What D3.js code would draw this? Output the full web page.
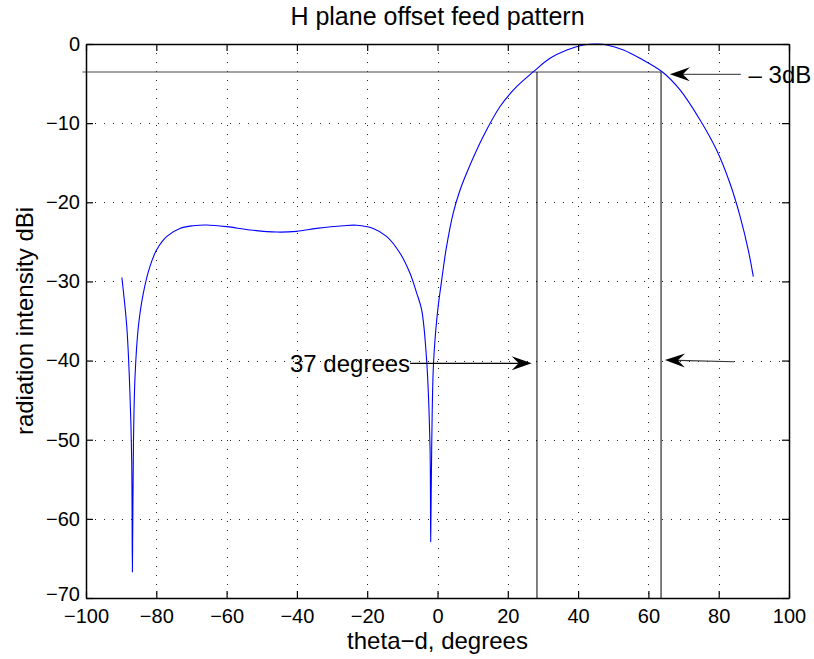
<!DOCTYPE html>
<html><head><meta charset="utf-8">
<script src="https://cdn.jsdelivr.net/npm/d3@7"></script>
<style>body{margin:0;background:#fff;} text{font-family:"Liberation Sans",Arial,Helvetica,sans-serif;}</style>
</head><body>
<script>
// ---- data ----
const theta = [-89.8,-88.4,-87.5,-87.0,-86.8,-86.5,-86.05,-85.1,-83.7,-81.8,-79.9,-77.0,-73.3,-69.5,-65.7,-60.0,-53.3,-45.7,-40.1,-34.4,-26.8,-23.0,-18.3,-14.5,-10.7,-7.8,-5.9,-4.5,-3.1,-2.13,-1.94,-1.65,-1.2,-0.5,0.23,1.2,2.5,4.5,6.3,8.3,13.0,17.8,22.5,27.3,32.0,36.8,41.5,45.5,48.5,52.9,57.6,64.0,69.0,74.7,79.4,83.2,86.1,88.4,89.85];
const intensity = [-29.5,-35.7,-44.1,-52.6,-66.7,-50.5,-42.0,-35.7,-31.5,-28.1,-26.0,-24.3,-23.3,-22.96,-22.87,-23.08,-23.5,-23.76,-23.67,-23.3,-22.96,-22.9,-23.3,-24.3,-26.4,-29.0,-31.5,-33.6,-39.9,-50.9,-62.9,-50.9,-41.0,-36.2,-33.0,-29.8,-25.8,-21.3,-18.6,-16.3,-11.7,-7.9,-5.4,-3.5,-1.81,-0.76,-0.13,0,-0.15,-0.76,-1.81,-3.54,-5.8,-9.6,-13.4,-17.6,-21.8,-26.0,-29.4];
const xTicks = [-100,-80,-60,-40,-20,0,20,40,60,80,100];
const yTicks = [-70,-60,-50,-40,-30,-20,-10,0];
const titleText = "H plane offset feed pattern";
const xLabelText = "theta\u2212d, degrees";
const yLabelText = "radiation intensity dBi";
const halfPowerLevel = -3.54;
const halfPowerAngles = [28.3, 63.6];
const annot3dB = {label:"\u2013 3dB", tail:[86.3,-3.83], tip:[66.1,-3.83], textAt:[88.5,-4.95]};
const annotWidth = {label:"37 degrees", tail:[-7.8,-40.35], tip:[26.8,-40.35], tail2:[84.35,-40.15], tip2:[64.7,-39.93]};

// ---- layout ----
const W=814,H=659, L=86,R=789,T=44,B=598;
const svg=d3.select("body").append("svg").attr("width",W).attr("height",H);
const x=d3.scaleLinear().domain([-100,100]).range([L,R]);
const y=d3.scaleLinear().domain([-70,0]).range([B,T]);
const fsTick=20, fsLab=24, fsTitle=25;

// grid
const g=svg.append("g");
g.selectAll(".gx").data(xTicks.slice(1,-1)).join("line")
 .attr("x1",d=>Math.round(x(d))+0.5).attr("x2",d=>Math.round(x(d))+0.5).attr("y1",T).attr("y2",B)
 .attr("stroke","#222").attr("stroke-width",1).attr("stroke-dasharray","1,8");
g.selectAll(".gy").data(yTicks.slice(1,-1)).join("line")
 .attr("y1",d=>Math.round(y(d))+0.5).attr("y2",d=>Math.round(y(d))+0.5).attr("x1",L).attr("x2",R)
 .attr("stroke","#222").attr("stroke-width",1).attr("stroke-dasharray","1,8");

// annotation lines
svg.append("line").attr("x1",x(-101)).attr("x2",x(halfPowerAngles[1])).attr("y1",y(halfPowerLevel)).attr("y2",y(halfPowerLevel))
 .attr("stroke","#444").attr("stroke-width",1.2);
svg.selectAll(".vl").data(halfPowerAngles).join("line")
 .attr("x1",d=>x(d)).attr("x2",d=>x(d)).attr("y1",y(halfPowerLevel)).attr("y2",B)
 .attr("stroke","#000").attr("stroke-width",1);

// curve
const pts=theta.map((t,i)=>[t,intensity[i]]);
svg.append("path").datum(pts)
 .attr("d",d3.line().x(d=>x(d[0])).y(d=>y(d[1])).curve(d3.curveCatmullRom.alpha(0.5)))
 .attr("fill","none").attr("stroke","#0000ff").attr("stroke-width",1.1);

// axes (box with inward ticks on all sides)
const tl=7;
const fmt=d=>d<0?"\u2212"+Math.abs(d):d;
const axB=d3.axisBottom(x).tickValues(xTicks).tickSizeInner(-tl).tickSizeOuter(0).tickPadding(11).tickFormat(fmt);
const axT=d3.axisTop(x).tickValues(xTicks).tickSizeInner(-tl).tickSizeOuter(0).tickFormat("");
const axL=d3.axisLeft(y).tickValues(yTicks).tickSizeInner(-tl).tickSizeOuter(0).tickPadding(6).tickFormat(fmt);
const axR=d3.axisRight(y).tickValues(yTicks).tickSizeInner(-tl).tickSizeOuter(0).tickFormat("");
[[axB,`translate(0,${B})`],[axT,`translate(0,${T})`],[axL,`translate(${L},0)`],[axR,`translate(${R},0)`]].forEach(([a,tr])=>{
  const gg=svg.append("g").attr("transform",tr).call(a);
  gg.select(".domain").attr("stroke","#000").attr("stroke-width",1.5);
  gg.selectAll(".tick line").attr("stroke","#000").attr("stroke-width",1.2);
  gg.selectAll("text").attr("font-size",fsTick).attr("fill","#000").style("font-family","'Liberation Sans',Arial,sans-serif");
  if(a===axL) gg.selectAll(".tick text").filter(d=>d===yTicks[0]).attr("y",-4);
});

// titles
svg.append("text").attr("x",(L+R)/2).attr("y",25).attr("text-anchor","middle").attr("font-size",fsTitle).text(titleText);
svg.append("text").attr("x",(L+R)/2).attr("y",649).attr("text-anchor","middle").attr("font-size",fsLab).text(xLabelText);
svg.append("text").attr("transform",`translate(33,${(T+B)/2}) rotate(-90)`).attr("text-anchor","middle").attr("font-size",fsLab).text(yLabelText);

// arrows
function arrow(tail,tip,col){
  const x0=x(tail[0]),y0=y(tail[1]),x1=x(tip[0]),y1=y(tip[1]);
  const ang=Math.atan2(y1-y0,x1-x0);
  const len=20,hw=7,notch=13;
  svg.append("line").attr("x1",x0).attr("y1",y0).attr("x2",x1-Math.cos(ang)*notch).attr("y2",y1-Math.sin(ang)*notch)
    .attr("stroke",col).attr("stroke-width",1.2);
  const p=(a,b)=>[x1+Math.cos(ang)*a-Math.sin(ang)*b, y1+Math.sin(ang)*a+Math.cos(ang)*b];
  svg.append("path").attr("d","M"+[p(0,0),p(-len,-hw),p(-notch,0),p(-len,hw)].map(q=>q.join(",")).join("L")+"Z").attr("fill","#000");
}
arrow(annot3dB.tail,annot3dB.tip,"#555");
svg.append("text").attr("x",x(annot3dB.textAt[0])).attr("y",y(annot3dB.textAt[1])).attr("font-size",fsLab).text(annot3dB.label);
arrow(annotWidth.tail,annotWidth.tip,"#000");
arrow(annotWidth.tail2,annotWidth.tip2,"#333");
svg.append("text").attr("x",x(annotWidth.tail[0])).attr("y",y(annotWidth.tail[1])).attr("dy","0.35em").attr("text-anchor","end").attr("font-size",fsLab).text(annotWidth.label);
</script>
</body></html>
